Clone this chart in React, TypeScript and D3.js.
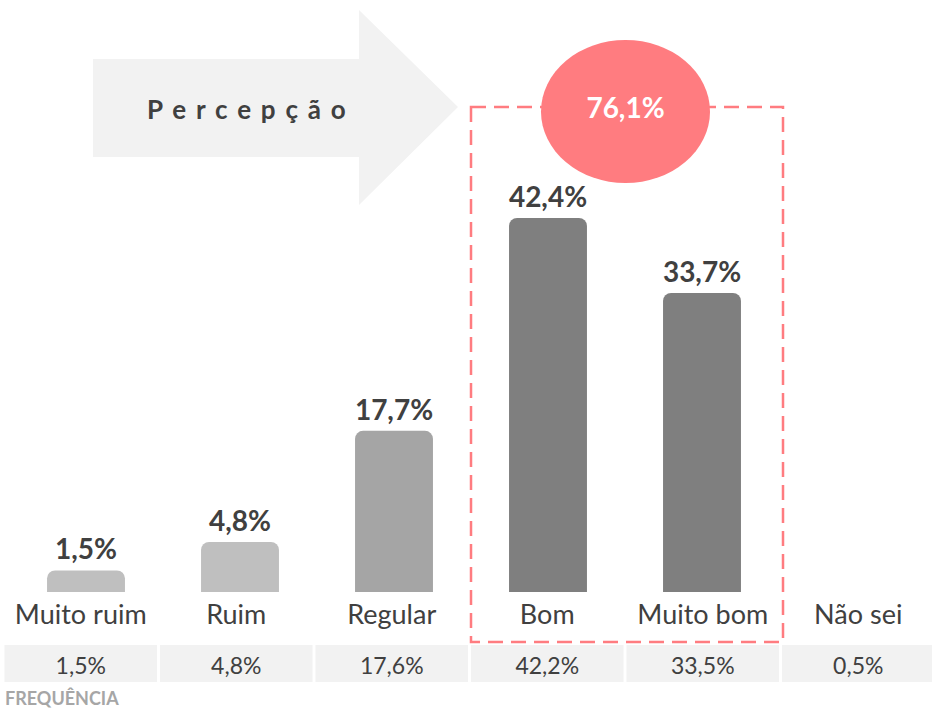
import React from 'react';
import * as d3 from 'd3';

const categories = ['Muito ruim', 'Ruim', 'Regular', 'Bom', 'Muito bom', 'Não sei'];
const perception = [1.5, 4.8, 17.7, 42.4, 33.7];
const frequency = [1.5, 4.8, 17.6, 42.2, 33.5, 0.5];
const highlighted = ['Bom', 'Muito bom'];
const title = 'Percepção';
const tableLabel = 'FREQUÊNCIA';

const W = 932;
const H = 708;
const FONT = 'Lato, "Open Sans", sans-serif';
const DARK = '#404040';
const PINK = '#FF7C80';

const locale = d3.formatLocale({ decimal: ',', thousands: '.', grouping: [3], currency: ['', ''] });
const pct = (v: number) => locale.format('.1f')(v) + '%';

const barColor = d3.scaleOrdinal<string, string>()
  .domain(categories)
  .range(['#BFBFBF', '#BFBFBF', '#A5A5A5', '#7F7F7F', '#7F7F7F', '#7F7F7F']);

// top-rounded bar
const barPath = (x: number, y: number, w: number, h: number, r: number) => {
  const rr = Math.min(r, h, w / 2);
  const p = d3.path();
  p.moveTo(x, y + h);
  p.lineTo(x, y + rr);
  p.arcTo(x, y, x + rr, y, rr);
  p.lineTo(x + w - rr, y);
  p.arcTo(x + w, y, x + w, y + rr, rr);
  p.lineTo(x + w, y + h);
  p.closePath();
  return p.toString();
};

export default function App() {
  const baseline = 592;

  const xBar = d3.scaleBand<string>()
    .domain(categories)
    .range([9, 933])
    .paddingInner(0.494)
    .paddingOuter(0.247);

  const xCat = d3.scaleBand<string>()
    .domain(categories)
    .range([3, 936]);

  const y = d3.scaleLinear()
    .domain([-1, 43])
    .range([baseline, baseline - 8.62 * 44]);

  const total = d3.sum(categories.map((c, i) => (highlighted.includes(c) ? perception[i] : 0)));

  // dashed box around highlighted categories
  const hx0 = (xCat(highlighted[0]) ?? 0) + 1.5;
  const hx1 = (xCat(highlighted[highlighted.length - 1]) ?? 0) + xCat.step() + 2.5;
  const hy0 = 107;
  const hy1 = 642;

  // arrow
  const arrow = [
    [93, 59], [359, 59], [359, 10], [458, 107], [359, 205], [359, 157], [93, 157],
  ];

  return (
    <svg width={W} height={H} style={{ position: 'absolute', left: 0, top: 0, background: '#fff' }}
      fontFamily={FONT}>
      <polygon points={arrow.map(p => p.join(',')).join(' ')} fill="#F2F2F2" />
      <text x={147} y={119} fontSize={26} fontWeight={700} fill={DARK} letterSpacing={9.8}>{title}</text>

      <rect x={hx0} y={hy0} width={hx1 - hx0} height={hy1 - hy0} fill="none"
        stroke={PINK} strokeWidth={2.5} strokeDasharray="15 8" />

      {perception.map((v, i) => {
        const c = categories[i];
        const x0 = xBar(c) ?? 0;
        const bw = xBar.bandwidth();
        return (
          <g key={c}>
            <path d={barPath(x0, y(v), bw, baseline - y(v), 8)} fill={barColor(c)} />
            <text x={x0 + bw / 2} y={y(v) - 11} textAnchor="middle" fontSize={28}
              fontWeight={700} fill={DARK}>{pct(v)}</text>
          </g>
        );
      })}

      <ellipse cx={625.5} cy={111.5} rx={84.5} ry={71.5} fill={PINK} />
      <text x={625.5} y={118} textAnchor="middle" fontSize={28} fontWeight={700} fill="#fff">{pct(total)}</text>

      {categories.map((c, i) => {
        const x0 = xCat(c) ?? 0;
        const cx = x0 + xCat.step() / 2;
        return (
          <g key={c}>
            <text x={cx} y={624} textAnchor="middle" fontSize={27} fill={DARK}>{c}</text>
            <rect x={x0 + 1.5} y={645} width={xCat.step() - 3} height={37} fill="#F2F2F2" />
            <text x={cx} y={674} textAnchor="middle" fontSize={23} fill={DARK}>{pct(frequency[i])}</text>
          </g>
        );
      })}

      <text x={5} y={705} fontSize={18} fontWeight={700} fill="#A6A6A6">{tableLabel}</text>
    </svg>
  );
}
